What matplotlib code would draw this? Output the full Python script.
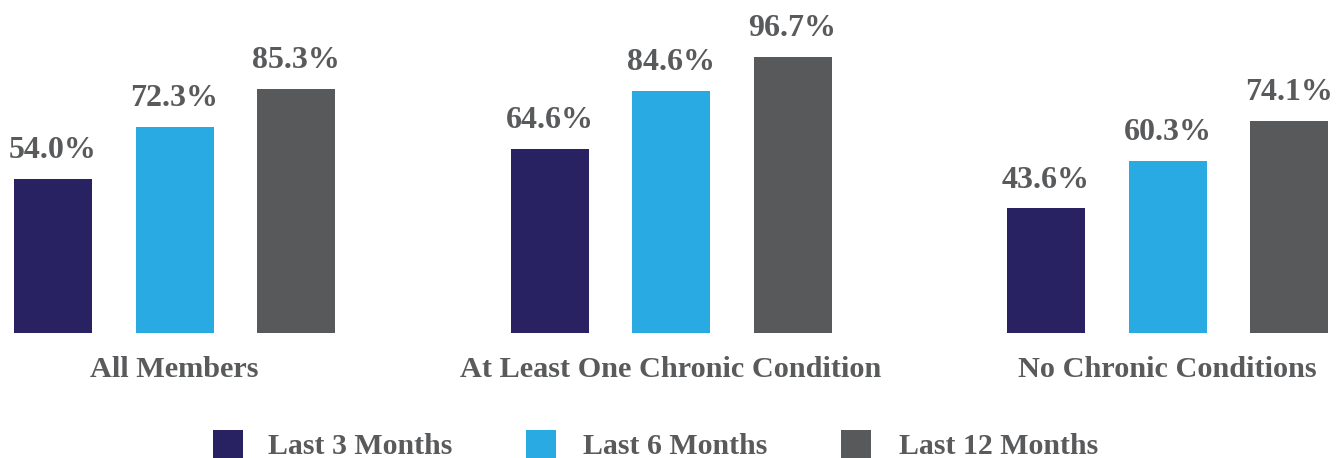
import matplotlib
matplotlib.use("Agg")
import matplotlib.pyplot as plt
from matplotlib.patches import Rectangle
import numpy as np

categories = ["All Members", "At Least One Chronic Condition", "No Chronic Conditions"]
series_names = ["Last 3 Months", "Last 6 Months", "Last 12 Months"]
last3 = [54.0, 64.6, 43.6]
last6 = [72.3, 84.6, 60.3]
last12 = [85.3, 96.7, 74.1]
colors = ["#282162", "#29AAE2", "#58595B"]
text_color = "#595A5C"

plt.rcParams['font.family'] = ['Liberation Serif', 'DejaVu Serif']

W, H = 1343, 458
fig = plt.figure(figsize=(W / 100, H / 100), dpi=100)
base_px = 333
scale_px = 2.856
ax = fig.add_axes([0, (H - base_px) / H, 1, scale_px * 100 / H])

group_px = 496.5
offset = 121.5 / group_px
width = 78 / group_px
first_center = 174.5
ax.set_xlim(-first_center / group_px, (W - first_center) / group_px)
ax.set_ylim(0, 100)
ax.axis('off')

x = np.arange(len(categories))
all_series = [last3, last6, last12]
for i, vals in enumerate(all_series):
    xs = x + (i - 1) * offset
    ax.bar(xs, vals, width=width, color=colors[i], linewidth=0)
    for xb, v in zip(xs, vals):
        ax.annotate(f"{v:.1f}%", (xb, v), xytext=(0, 15.1), textcoords='offset points',
                    ha='center', va='baseline', fontsize=23, fontweight='bold',
                    color=text_color, annotation_clip=False)

tr = ax.get_xaxis_transform()
for xc, lab in zip(x, categories):
    ax.text(xc, -44 / (scale_px * 100), lab, transform=tr, ha='center', va='baseline',
            fontsize=21.8, fontweight='bold', color=text_color, clip_on=False)

# legend
sq_x = [213, 526, 841]
tx_x = [268, 583, 899]
sq_top = 430
sq_size = 30
for i, name in enumerate(series_names):
    fig.patches.append(Rectangle((sq_x[i] / W, (H - sq_top - sq_size) / H), sq_size / W, sq_size / H,
                                 transform=fig.transFigure, color=colors[i], linewidth=0))
    fig.text(tx_x[i] / W, (H - 454) / H, name, ha='left', va='baseline', fontsize=21.5,
             fontweight='bold', color=text_color)

fig.savefig("out.png", dpi=100)
